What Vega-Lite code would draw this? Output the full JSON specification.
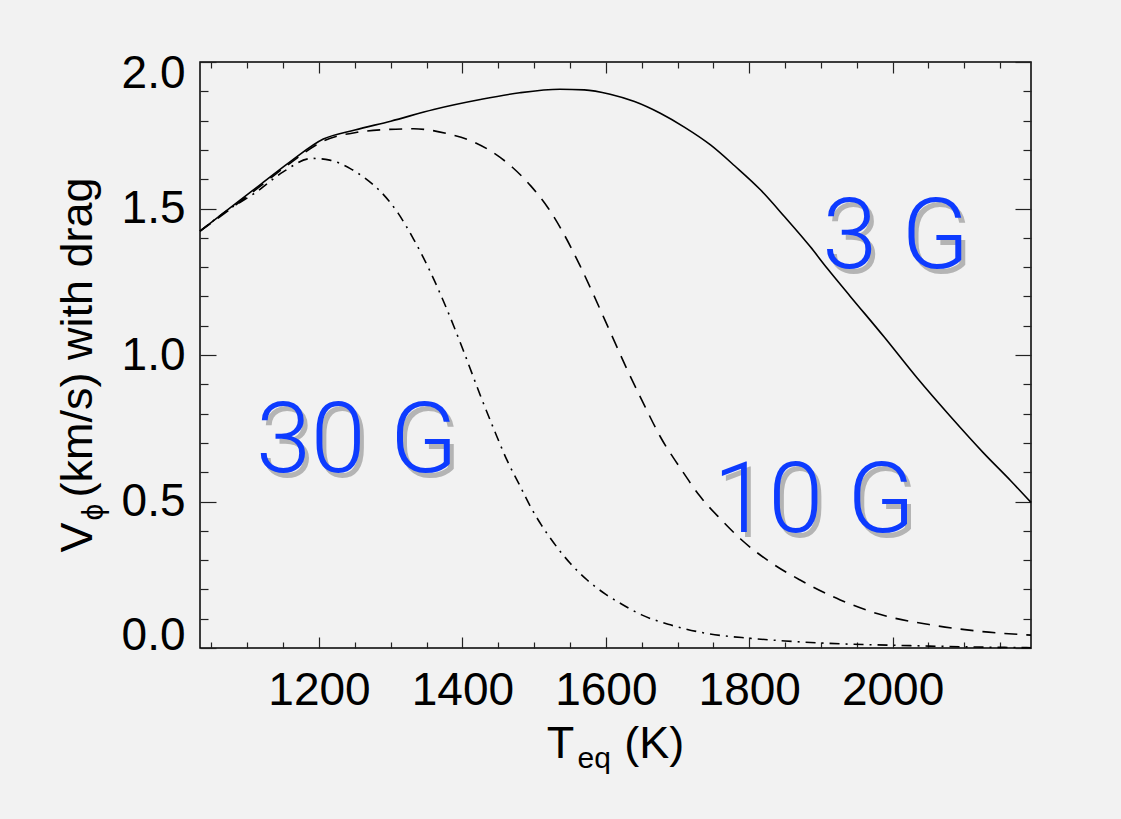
{
  "$schema": "https://vega.github.io/schema/vega-lite/v6.json",
  "width": 831,
  "height": 586,
  "autosize": {"type": "none"},
  "padding": {"left": 200, "top": 62, "right": 90, "bottom": 171},
  "background": "#f2f2f2",
  "config": {
    "view": {"stroke": "#000", "strokeWidth": 1.5},
    "axis": {"grid": false, "domain": false, "labelFont": "Liberation Sans", "titleFont": "Liberation Sans", "labelColor": "#000", "titleColor": "#000", "tickColor": "#222", "tickWidth": 1.2, "titleFontWeight": "normal"}
  },
  "datasets": {
    "curves": [
      {"series": "3 G", "T": 1034, "V": 1.423}, {"series": "3 G", "T": 1080, "V": 1.51}, {"series": "3 G", "T": 1120, "V": 1.585}, {"series": "3 G", "T": 1160, "V": 1.66}, {"series": "3 G", "T": 1206, "V": 1.737}, {"series": "3 G", "T": 1250, "V": 1.768}, {"series": "3 G", "T": 1300, "V": 1.798}, {"series": "3 G", "T": 1360, "V": 1.838}, {"series": "3 G", "T": 1425, "V": 1.872}, {"series": "3 G", "T": 1480, "V": 1.895}, {"series": "3 G", "T": 1536, "V": 1.907}, {"series": "3 G", "T": 1570, "V": 1.905}, {"series": "3 G", "T": 1606, "V": 1.89}, {"series": "3 G", "T": 1640, "V": 1.865}, {"series": "3 G", "T": 1676, "V": 1.825}, {"series": "3 G", "T": 1710, "V": 1.777}, {"series": "3 G", "T": 1746, "V": 1.717}, {"series": "3 G", "T": 1780, "V": 1.645}, {"series": "3 G", "T": 1816, "V": 1.563}, {"series": "3 G", "T": 1850, "V": 1.47}, {"series": "3 G", "T": 1885, "V": 1.37}, {"series": "3 G", "T": 1909, "V": 1.295}, {"series": "3 G", "T": 1941, "V": 1.2}, {"series": "3 G", "T": 1988, "V": 1.062}, {"series": "3 G", "T": 2034, "V": 0.922}, {"series": "3 G", "T": 2081, "V": 0.789}, {"series": "3 G", "T": 2127, "V": 0.665}, {"series": "3 G", "T": 2165, "V": 0.57}, {"series": "3 G", "T": 2193, "V": 0.497},
      {"series": "10 G", "T": 1034, "V": 1.423}, {"series": "10 G", "T": 1080, "V": 1.505}, {"series": "10 G", "T": 1120, "V": 1.58}, {"series": "10 G", "T": 1160, "V": 1.655}, {"series": "10 G", "T": 1206, "V": 1.73}, {"series": "10 G", "T": 1253, "V": 1.76}, {"series": "10 G", "T": 1290, "V": 1.769}, {"series": "10 G", "T": 1332, "V": 1.772}, {"series": "10 G", "T": 1378, "V": 1.756}, {"series": "10 G", "T": 1415, "V": 1.728}, {"series": "10 G", "T": 1439, "V": 1.697}, {"series": "10 G", "T": 1470, "V": 1.64}, {"series": "10 G", "T": 1495, "V": 1.578}, {"series": "10 G", "T": 1520, "V": 1.5}, {"series": "10 G", "T": 1541, "V": 1.415}, {"series": "10 G", "T": 1564, "V": 1.305}, {"series": "10 G", "T": 1583, "V": 1.205}, {"series": "10 G", "T": 1605, "V": 1.085}, {"series": "10 G", "T": 1630, "V": 0.949}, {"series": "10 G", "T": 1655, "V": 0.822}, {"series": "10 G", "T": 1676, "V": 0.721}, {"series": "10 G", "T": 1705, "V": 0.61}, {"series": "10 G", "T": 1732, "V": 0.516}, {"series": "10 G", "T": 1760, "V": 0.44}, {"series": "10 G", "T": 1788, "V": 0.372}, {"series": "10 G", "T": 1830, "V": 0.292}, {"series": "10 G", "T": 1871, "V": 0.232}, {"series": "10 G", "T": 1927, "V": 0.164}, {"series": "10 G", "T": 1982, "V": 0.115}, {"series": "10 G", "T": 2051, "V": 0.08}, {"series": "10 G", "T": 2121, "V": 0.057}, {"series": "10 G", "T": 2193, "V": 0.044},
      {"series": "30 G", "T": 1034, "V": 1.423}, {"series": "30 G", "T": 1070, "V": 1.49}, {"series": "30 G", "T": 1113, "V": 1.557}, {"series": "30 G", "T": 1150, "V": 1.625}, {"series": "30 G", "T": 1190, "V": 1.671}, {"series": "30 G", "T": 1215, "V": 1.665}, {"series": "30 G", "T": 1243, "V": 1.637}, {"series": "30 G", "T": 1265, "V": 1.602}, {"series": "30 G", "T": 1285, "V": 1.56}, {"series": "30 G", "T": 1310, "V": 1.485}, {"series": "30 G", "T": 1332, "V": 1.395}, {"series": "30 G", "T": 1355, "V": 1.285}, {"series": "30 G", "T": 1378, "V": 1.158}, {"series": "30 G", "T": 1401, "V": 1.017}, {"series": "30 G", "T": 1425, "V": 0.862}, {"series": "30 G", "T": 1445, "V": 0.74}, {"series": "30 G", "T": 1462, "V": 0.642}, {"series": "30 G", "T": 1480, "V": 0.555}, {"series": "30 G", "T": 1495, "V": 0.482}, {"series": "30 G", "T": 1510, "V": 0.42}, {"series": "30 G", "T": 1527, "V": 0.36}, {"series": "30 G", "T": 1550, "V": 0.29}, {"series": "30 G", "T": 1574, "V": 0.232}, {"series": "30 G", "T": 1600, "V": 0.183}, {"series": "30 G", "T": 1620, "V": 0.153}, {"series": "30 G", "T": 1650, "V": 0.113}, {"series": "30 G", "T": 1690, "V": 0.079}, {"series": "30 G", "T": 1740, "V": 0.05}, {"series": "30 G", "T": 1802, "V": 0.033}, {"series": "30 G", "T": 1850, "V": 0.024}, {"series": "30 G", "T": 1909, "V": 0.016}, {"series": "30 G", "T": 2025, "V": 0.008}, {"series": "30 G", "T": 2100, "V": 0.004}, {"series": "30 G", "T": 2193, "V": 0.001}
    ],
    "labels": [
      {"label": "3 G", "T": 1902, "V": 1.297},
      {"label": "30 G", "T": 1112, "V": 0.601},
      {"label": "10 G", "T": 1750, "V": 0.396}
    ]
  },
  "resolve": {"axis": {"x": "independent", "y": "independent"}},
  "layer": [
    {
      "data": {"name": "curves"},
      "transform": [{"filter": "datum.series === '3 G'"}],
      "mark": {"type": "line", "color": "#000", "strokeWidth": 1.6, "interpolate": "monotone"},
      "encoding": {
        "x": {"field": "T", "type": "quantitative", "scale": {"domain": [1034, 2193], "nice": false, "zero": false},
          "axis": {"orient": "bottom", "values": [1200, 1400, 1600, 1800, 2000], "format": "d", "tickSize": -11, "labelFontSize": 46, "labelPadding": 31, "labelFlush": false, "title": "T\u00a0\u00a0\u00a0\u00a0(K)", "titleFontSize": 45, "titleX": 415, "titleY": 109, "titleAlign": "center", "titleBaseline": "alphabetic"}},
        "y": {"field": "V", "type": "quantitative", "scale": {"domain": [0, 2], "nice": false, "zero": false},
          "axis": {"orient": "left", "values": [0, 0.5, 1, 1.5, 2], "format": ".1f", "tickSize": -16, "labelFontSize": 46, "labelPadding": 31, "labelFlush": true, "labelFlushOffset": 11, "title": "V\u00a0\u00a0(km/s) with drag", "titleFontSize": 45, "titleAngle": 270, "titleAlign": "left", "titleBaseline": "alphabetic", "titleX": -109, "titleY": 490}}
      }
    },
    {
      "data": {"name": "curves"},
      "transform": [{"filter": "datum.series === '10 G'"}],
      "mark": {"type": "line", "color": "#000", "strokeWidth": 1.6, "strokeDash": [13, 9], "interpolate": "monotone"},
      "encoding": {
        "x": {"field": "T", "type": "quantitative", "scale": {"domain": [1034, 2193], "nice": false, "zero": false},
          "axis": {"orient": "bottom", "values": [1050, 1100, 1150, 1250, 1300, 1350, 1450, 1500, 1550, 1650, 1700, 1750, 1850, 1900, 1950, 2050, 2100, 2150], "tickSize": -6, "labels": false, "title": "eq", "titleFontSize": 30, "titleX": 377, "titleY": 119, "titleAlign": "left", "titleBaseline": "alphabetic"}},
        "y": {"field": "V", "type": "quantitative", "scale": {"domain": [0, 2], "nice": false, "zero": false},
          "axis": {"orient": "left", "values": [0.1, 0.2, 0.3, 0.4, 0.6, 0.7, 0.8, 0.9, 1.1, 1.2, 1.3, 1.4, 1.6, 1.7, 1.8, 1.9], "tickSize": -8, "labels": false, "title": "ϕ", "titleFontSize": 30, "titleAngle": 270, "titleAlign": "left", "titleBaseline": "alphabetic", "titleX": -98, "titleY": 458}}
      }
    },
    {
      "data": {"name": "curves"},
      "transform": [{"filter": "datum.series === '30 G'"}],
      "mark": {"type": "line", "color": "#000", "strokeWidth": 1.6, "strokeDash": [10, 6, 2, 6], "interpolate": "monotone"},
      "encoding": {
        "x": {"field": "T", "type": "quantitative", "scale": {"domain": [1034, 2193], "nice": false, "zero": false},
          "axis": {"orient": "top", "values": [1200, 1400, 1600, 1800, 2000], "tickSize": -11, "labels": false, "title": null}},
        "y": {"field": "V", "type": "quantitative", "scale": {"domain": [0, 2], "nice": false, "zero": false},
          "axis": {"orient": "right", "values": [0, 0.5, 1, 1.5, 2], "tickSize": -16, "labels": false, "title": null}}
      }
    },
    {
      "data": {"name": "labels"},
      "mark": {"type": "text", "color": "#6a6a6a", "opacity": 0.45, "font": "Roboto", "fontWeight": 300, "fontSize": 99, "align": "left", "baseline": "alphabetic", "dx": 4, "dy": 5},
      "encoding": {
        "x": {"field": "T", "type": "quantitative", "scale": {"domain": [1034, 2193], "nice": false, "zero": false},
          "axis": {"orient": "top", "values": [1050, 1100, 1150, 1250, 1300, 1350, 1450, 1500, 1550, 1650, 1700, 1750, 1850, 1900, 1950, 2050, 2100, 2150], "tickSize": -6, "labels": false, "title": null}},
        "y": {"field": "V", "type": "quantitative", "scale": {"domain": [0, 2], "nice": false, "zero": false},
          "axis": {"orient": "right", "values": [0.1, 0.2, 0.3, 0.4, 0.6, 0.7, 0.8, 0.9, 1.1, 1.2, 1.3, 1.4, 1.6, 1.7, 1.8, 1.9], "tickSize": -8, "labels": false, "title": null}},
        "text": {"field": "label"}
      }
    },
    {
      "data": {"name": "labels"},
      "mark": {"type": "text", "color": "#0d3bff", "font": "Roboto", "fontWeight": 300, "fontSize": 99, "align": "left", "baseline": "alphabetic"},
      "encoding": {
        "x": {"field": "T", "type": "quantitative", "scale": {"domain": [1034, 2193], "nice": false, "zero": false}, "axis": null},
        "y": {"field": "V", "type": "quantitative", "scale": {"domain": [0, 2], "nice": false, "zero": false}, "axis": null},
        "text": {"field": "label"}
      }
    }
  ]
}
